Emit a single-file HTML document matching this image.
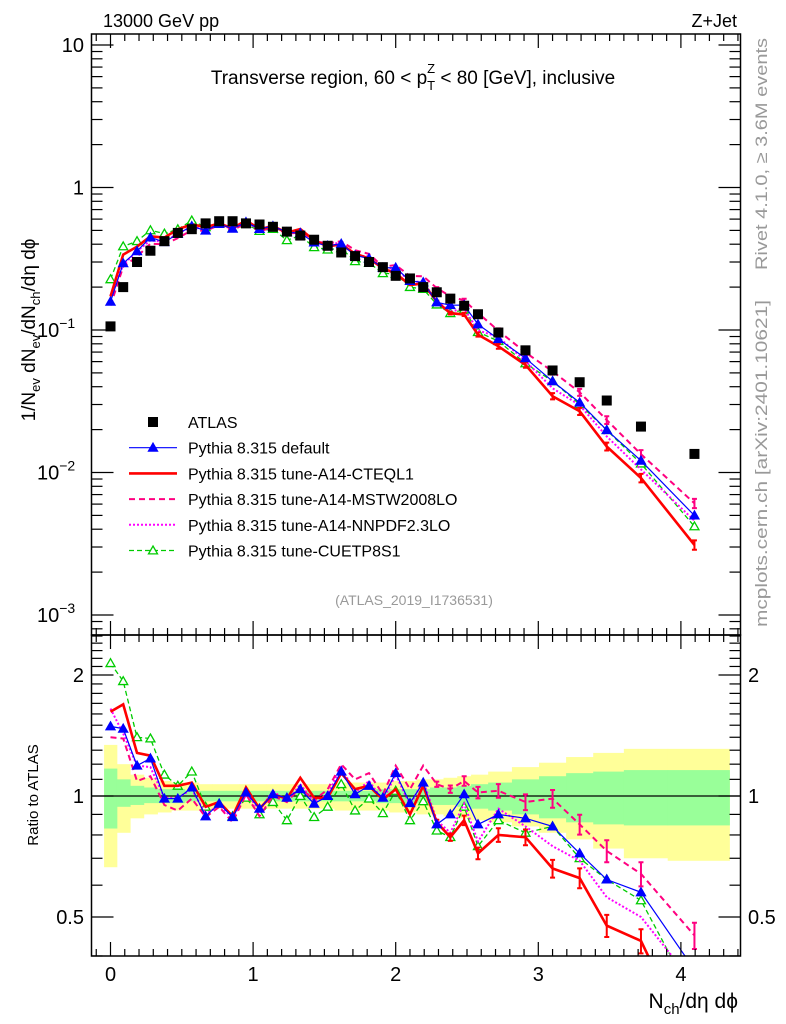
<!DOCTYPE html>
<html><head><meta charset="utf-8"><style>
html,body{margin:0;background:#fff;overflow:hidden;width:786px;height:1024px}
svg{display:block;font-family:"Liberation Sans",sans-serif}
</style></head><body>
<svg id="chart" width="786" height="1024" viewBox="0 0 786 1024" xmlns="http://www.w3.org/2000/svg">
<text x="103" y="27" font-size="18">13000 GeV pp</text>
<text x="737" y="27" font-size="18" text-anchor="end">Z+Jet</text>
<text x="413" y="84" font-size="19" text-anchor="middle">Transverse region, 60 &lt; p<tspan font-size="13" dy="6">T</tspan><tspan font-size="13" dx="-8" dy="-17">Z</tspan><tspan dy="11"> &lt; 80 [GeV], inclusive</tspan></text>
<text transform="translate(35,330) rotate(-90)" font-size="19" text-anchor="middle">1/N<tspan font-size="13" dy="5">ev</tspan><tspan dy="-5"> dN</tspan><tspan font-size="13" dy="5">ev</tspan><tspan dy="-5">/dN</tspan><tspan font-size="13" dy="5">ch</tspan><tspan dy="-5">/dη dϕ</tspan></text>
<text transform="translate(767,270) rotate(-90)" font-size="17" fill="#999" textLength="232" lengthAdjust="spacingAndGlyphs">Rivet 4.1.0, ≥ 3.6M events</text>
<text transform="translate(767,627) rotate(-90)" font-size="17" fill="#999" textLength="327" lengthAdjust="spacingAndGlyphs">mcplots.cern.ch [arXiv:2401.10621]</text>
<text x="414" y="605" font-size="14" fill="#999" text-anchor="middle">(ATLAS_2019_I1736531)</text>
<text transform="translate(38,795) rotate(-90)" font-size="15" text-anchor="middle">Ratio to ATLAS</text>
<text x="738" y="1008" font-size="21" text-anchor="end">N<tspan font-size="15" dy="6">ch</tspan><tspan dy="-6">/dη dϕ</tspan></text>
<g id="g"></g>
</svg>
<script>
const xs=[0,0.089,0.186,0.28,0.378,0.472,0.57,0.667,0.762,0.856,0.95,1.045,1.139,1.237,1.331,1.428,1.523,1.618,1.715,1.813,1.91,2.0,2.1,2.193,2.288,2.383,2.48,2.577,2.72,2.91,3.10,3.29,3.48,3.72,4.095];
const atlas=[0.106,0.20,0.30,0.36,0.42,0.48,0.51,0.56,0.58,0.58,0.56,0.55,0.53,0.49,0.46,0.43,0.39,0.35,0.33,0.30,0.276,0.24,0.23,0.20,0.184,0.166,0.148,0.129,0.096,0.072,0.052,0.043,0.032,0.021,0.0135];
const rDefault=[1.49,1.47,1.19,1.24,0.985,0.985,1.05,0.89,0.957,0.886,1.02,0.93,1.01,0.99,1.04,0.957,1.0,1.15,1.01,1.06,0.99,1.14,0.96,1.08,0.85,0.90,1.01,0.85,0.90,0.88,0.84,0.72,0.62,0.576,0.37];
const rCteq=[1.62,1.69,1.28,1.26,1.06,1.06,1.08,0.94,0.966,0.89,1.05,0.93,1.01,0.985,1.11,0.99,0.99,1.14,1.04,1.06,0.98,1.04,0.90,1.06,0.86,0.79,0.87,0.72,0.80,0.79,0.66,0.625,0.476,0.436,0.23];
const rMstw=[1.40,1.39,1.09,1.12,0.95,0.92,0.985,0.886,0.94,0.86,1.01,0.89,1.0,0.966,1.05,0.975,1.04,1.2,1.1,1.14,1.01,1.19,1.04,1.19,1.07,1.04,1.09,1.02,1.03,0.966,0.985,0.85,0.73,0.64,0.45];
const rNnpdf=[1.65,1.43,1.19,1.18,0.99,0.99,1.04,0.90,0.95,0.88,1.02,0.92,1.03,0.966,1.07,0.966,1.01,1.18,1.02,1.09,0.975,1.13,0.95,1.09,0.87,0.81,0.957,0.77,0.93,0.84,0.75,0.69,0.56,0.50,0.34];
const rCuetp=[2.14,1.93,1.40,1.39,1.13,1.06,1.15,0.94,0.957,0.89,0.99,0.90,0.966,0.87,1.0,0.886,0.94,1.07,0.92,0.985,0.906,1.03,0.87,0.97,0.82,0.79,0.94,0.75,0.87,0.81,0.84,0.70,0.62,0.55,0.31];
const yUp=[1.34,1.20,1.13,1.11,1.09,1.08,1.08,1.07,1.07,1.07,1.07,1.07,1.07,1.07,1.07,1.07,1.07,1.08,1.08,1.08,1.08,1.09,1.09,1.10,1.10,1.11,1.12,1.13,1.15,1.18,1.21,1.25,1.28,1.31,1.31];
const yDn=[0.665,0.81,0.88,0.90,0.91,0.92,0.92,0.92,0.93,0.93,0.93,0.93,0.93,0.93,0.93,0.93,0.93,0.92,0.92,0.92,0.92,0.91,0.91,0.90,0.90,0.89,0.88,0.87,0.86,0.84,0.81,0.78,0.74,0.70,0.69];
const gUp=[1.17,1.10,1.06,1.05,1.04,1.04,1.03,1.03,1.03,1.03,1.03,1.03,1.03,1.03,1.03,1.03,1.03,1.03,1.03,1.03,1.04,1.04,1.04,1.04,1.05,1.05,1.06,1.07,1.08,1.10,1.12,1.14,1.15,1.16,1.16];
const gDn=[0.83,0.94,0.95,0.96,0.96,0.96,0.97,0.97,0.97,0.97,0.97,0.97,0.97,0.97,0.97,0.97,0.97,0.97,0.97,0.97,0.96,0.96,0.96,0.96,0.95,0.95,0.94,0.93,0.92,0.90,0.88,0.86,0.85,0.845,0.845];
const xTicks=[0,1,2,3,4];
const mainTicks=[[10,"10",""],[1,"1",""],[0.1,"10","−1"],[0.01,"10","−2"],[0.001,"10","−3"]];
const ratioTicks=[[2,"2"],[1,"1"],[0.5,"0.5"]];

const NS="http://www.w3.org/2000/svg";
const G=document.getElementById('g');
const L=91.5,R=740.5,MT=34,MB=635,RB=956;
const X=v=>110.5+v*142.6;
const YM=v=>187.5-Math.log10(v)*142.5;
const YR=v=>796-Math.log10(v)*402;
function mk(tag,at,parent){const e=document.createElementNS(NS,tag);for(const k in at)e.setAttribute(k,at[k]);(parent||G).appendChild(e);return e;}

const defs=mk('defs',{});
const c1=mk('clipPath',{id:'cm'},defs);mk('rect',{x:L,y:MT,width:R-L,height:MB-MT},c1);
const c2=mk('clipPath',{id:'cr'},defs);mk('rect',{x:L,y:MB,width:R-L,height:RB-MB},c2);

const edges=[];edges.push(xs[0]-0.045);
for(let i=0;i<xs.length-1;i++)edges.push((xs[i]+xs[i+1])/2);
edges.push(4.34);
const bandG=mk('g',{'clip-path':'url(#cr)'});


function band(up,dn,col,name){for(let i=0;i<xs.length;i++){const r=mk('rect',{x:X(edges[i]),y:YR(up[i]),width:X(edges[i+1])-X(edges[i])+0.5,height:YR(dn[i])-YR(up[i]),fill:col},bandG);

}}
band(yUp,yDn,'#ffff99','band-yellow');band(gUp,gDn,'#99ff99','band-green');
const one=mk('line',{x1:L,x2:R,y1:YR(1),y2:YR(1),stroke:'#000','stroke-width':1.2});



const series=[
 {r:rCuetp,c:'#00cc00',w:1.3,d:'5,3',m:'open',name:'cuetp8s1'},
 {r:rNnpdf,c:'#ff00ff',w:2,d:'2,2',m:null,name:'nnpdf'},
 {r:rMstw,c:'#ff0080',w:2,d:'6,4',m:null,name:'mstw'},
 {r:rCteq,c:'#ff0000',w:2.6,d:null,m:null,name:'cteql1'},
 {r:rDefault,c:'#0000ff',w:1.2,d:null,m:'fill',name:'default'}
];
function tri(x,y,s,fill,col,p,name){const t=mk('path',{d:`M${x} ${y-s}L${x+s} ${y+s*0.75}L${x-s} ${y+s*0.75}Z`,fill:fill?col:'#fff',stroke:col,'stroke-width':1.3},p);

}
function drawPanel(Yf,clip,valf,panel){
 const pg=mk('g',{'clip-path':clip});
 for(const s of series){
  const vals=xs.map((x,i)=>valf(s,i));
  const pts=xs.map((x,i)=>X(x).toFixed(1)+','+Yf(vals[i]).toFixed(1)).join(' ');
  const pl=mk('polyline',{points:pts,fill:'none',stroke:s.c,'stroke-width':s.w},pg);
  if(s.d)pl.setAttribute('stroke-dasharray',s.d);
  
  
  xs.forEach((x,i)=>{
   if(i>=24&&(s.name==='cteql1'||s.name==='mstw')){const v=vals[i],e=0.015+0.006*(i-24);
    const y1=Yf(v*(1+e)),y2=Yf(v*(1-e));
    const eb=mk('path',{d:`M${X(x)} ${y1}V${y2}M${X(x)-2.5} ${y1}h5M${X(x)-2.5} ${y2}h5`,stroke:s.c,'stroke-width':2,fill:'none'},pg);
    
    }
   if(s.m)tri(X(x),Yf(vals[i]),4.5,s.m==='fill',s.c,pg,panel+'-marker-'+s.name);
  });
 }
 return pg;
}
const mg=drawPanel(YM,'url(#cm)',(s,i)=>atlas[i]*s.r[i],'main');
atlas.forEach((v,i)=>{const r=mk('rect',{x:X(xs[i])-5,y:YM(v)-5,width:10,height:10,fill:'#000'},mg);

});
drawPanel(YR,'url(#cr)',(s,i)=>s.r[i],'ratio');

for(const [t,b,n] of [[MT,MB,'main-frame'],[MB,RB,'ratio-frame']]){const f=mk('rect',{x:L,y:t,width:R-L,height:b-t,fill:'none',stroke:'#000','stroke-width':1.5});

}
const tg=mk('g',{stroke:'#000','stroke-width':1.2});


for(let v=-0.1;v<=4.41;v+=0.1){const x=X(v);if(x<L||x>R)continue;const maj=Math.abs(v-Math.round(v))<0.01;const h=maj?14:7;
 mk('line',{x1:x,x2:x,y1:MT,y2:MT+h},tg);mk('line',{x1:x,x2:x,y1:MB,y2:MB-h},tg);mk('line',{x1:x,x2:x,y1:MB,y2:MB+h},tg);mk('line',{x1:x,x2:x,y1:RB,y2:RB-h},tg);}
xTicks.forEach(v=>{const t=mk('text',{x:X(v),y:981,'font-size':20,'text-anchor':'middle'});t.textContent=v;

});
for(let e=-4;e<=1;e++)for(let k=1;k<=9;k++){const v=k*Math.pow(10,e);const y=YM(v);if(y<MT||y>MB)continue;const h=k===1?22:11;
 mk('line',{x1:L,x2:L+h,y1:y,y2:y},tg);mk('line',{x1:R,x2:R-h,y1:y,y2:y},tg);}
mainTicks.forEach(([v,b,ex])=>{let t;
 if(ex){t=mk('text',{x:37,y:YM(v)+7,'font-size':20});const a=mk('tspan',{},t);a.textContent=b;const s=mk('tspan',{'font-size':14,dy:-9},t);s.textContent=ex;}
 else{t=mk('text',{x:84,y:YM(v)+7,'font-size':20,'text-anchor':'end'});t.textContent=b;}
 
 });
for(let v=0.4;v<=2.6;v+=0.1){const y=YR(v);if(y<MB||y>RB)continue;const maj=[0.5,1,2].some(m=>Math.abs(m-v)<0.01);const h=maj?22:11;
 mk('line',{x1:L,x2:L+h,y1:y,y2:y},tg);mk('line',{x1:R,x2:R-h,y1:y,y2:y},tg);}
ratioTicks.forEach(([v,lab])=>{for(const [x,a] of [[84,'end'],[748,'start']]){const t=mk('text',{x:x,y:YR(v)+7,'font-size':20,'text-anchor':a});t.textContent=lab;

}});

const lg=mk('g',{});


const leg=[['ATLAS',null],['Pythia 8.315 default',series[4]],['Pythia 8.315 tune-A14-CTEQL1',series[3]],['Pythia 8.315 tune-A14-MSTW2008LO',series[2]],['Pythia 8.315 tune-A14-NNPDF2.3LO',series[1]],['Pythia 8.315 tune-CUETP8S1',series[0]]];
leg.forEach(([lab,s],i)=>{const y=422+i*25.7;const e=mk('g',{},lg);
 
 
 if(!s)mk('rect',{x:148,y:y-5,width:10,height:10,fill:'#000'},e);
 else{const l=mk('line',{x1:129,x2:177,y1:y,y2:y,stroke:s.c,'stroke-width':s.w},e);if(s.d)l.setAttribute('stroke-dasharray',s.d);if(s.m)tri(153,y,4.5,s.m==='fill',s.c,e,'legend-marker');}
 const t=mk('text',{x:188,y:y+6,'font-size':16},e);t.textContent=lab;});
</script>
</body></html>
